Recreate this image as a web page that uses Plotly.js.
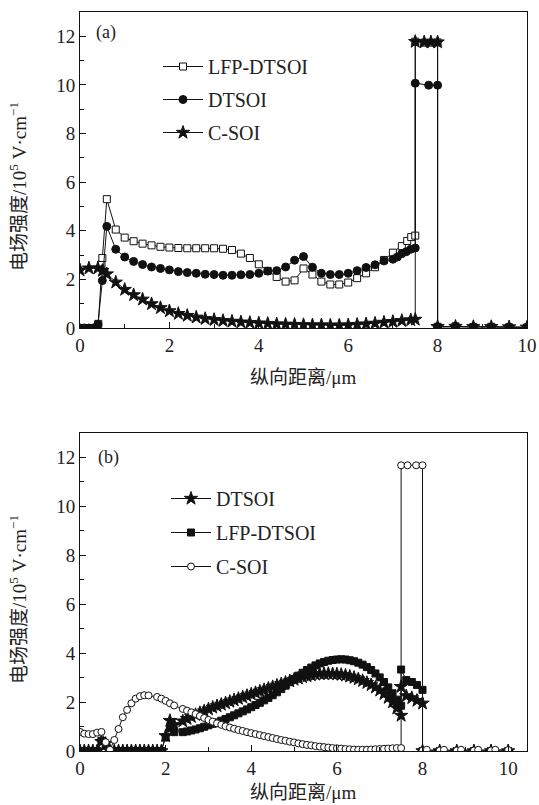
<!DOCTYPE html>
<html><head><meta charset="utf-8">
<script src="https://cdn.plot.ly/plotly-3.0.1.min.js"></script>
<style>body{margin:0;background:#fff}#chart{width:539px;height:805px}</style>
</head><body><div id="chart"></div>
<script>
// ---------- Panel (a) ----------
var xA_LFP = [0,0.1,0.2,0.3,0.41,0.48,0.5,0.6,0.8,1.0,1.2,1.4,1.6,1.8,2.0,2.2,2.4,2.6,2.8,3.0,3.2,3.4,3.6,3.8,4.0,4.2,4.4,4.6,4.8,5.0,5.2,5.4,5.6,5.8,6.0,6.2,6.4,6.6,6.8,7.0,7.2,7.32,7.41,7.5,7.5,7.7,7.85,8.0,8.0,8.4,8.8,9.2,9.6,10.0];
var yA_LFP = [0,0,0,0,0.17,2.62,2.88,5.3,4.05,3.72,3.57,3.47,3.40,3.34,3.31,3.29,3.28,3.28,3.28,3.28,3.26,3.21,3.06,2.88,2.62,2.35,2.10,1.91,1.96,2.45,2.20,1.91,1.79,1.79,1.87,2.05,2.25,2.50,2.80,3.10,3.37,3.58,3.74,3.80,11.78,11.74,11.74,11.75,0.05,0.07,0.04,0.05,0.03,0.02];

var xA_DT = [0,0.1,0.2,0.3,0.4,0.5,0.6,0.8,1.0,1.2,1.4,1.6,1.8,2.0,2.2,2.4,2.6,2.8,3.0,3.2,3.4,3.6,3.8,4.0,4.2,4.4,4.6,4.8,5.0,5.2,5.4,5.6,5.8,6.0,6.2,6.4,6.6,6.8,7.0,7.1,7.2,7.3,7.4,7.5,7.5,7.8,8.0,8.0,8.4,8.8,9.2,9.6,10.0];
var yA_DT = [0,0,0,0,0.15,1.95,4.18,3.24,2.92,2.74,2.61,2.51,2.45,2.39,2.32,2.28,2.25,2.21,2.20,2.17,2.17,2.19,2.20,2.25,2.34,2.36,2.51,2.79,2.94,2.50,2.25,2.20,2.20,2.25,2.36,2.49,2.60,2.76,2.83,2.92,3.06,3.14,3.24,3.29,10.07,9.99,9.99,0.05,0.06,0.05,0.04,0.04,0.03];

var xA_C = [0,0.2,0.4,0.5,0.6,0.8,1.0,1.2,1.4,1.6,1.8,2.0,2.2,2.4,2.6,2.8,3.0,3.2,3.4,3.6,3.8,4.0,4.2,4.4,4.6,4.8,5.0,5.2,5.4,5.6,5.8,6.0,6.2,6.4,6.6,6.8,7.0,7.2,7.4,7.5,7.5,7.7,7.85,8.0,8.0,8.4,8.8,9.2,9.6,10.0];
var yA_C = [2.38,2.46,2.46,2.36,2.22,1.88,1.58,1.36,1.18,0.99,0.83,0.70,0.59,0.51,0.44,0.38,0.34,0.30,0.27,0.24,0.22,0.20,0.18,0.16,0.15,0.14,0.13,0.12,0.12,0.11,0.11,0.12,0.14,0.16,0.19,0.23,0.26,0.30,0.33,0.35,11.78,11.76,11.76,11.76,0.05,0.06,0.05,0.05,0.04,0.03];

// ---------- Panel (b) ----------
var xB_early = [0,0.1,0.2,0.3,0.4,0.5,0.6,0.7,0.8,0.9,1.0,1.1,1.2,1.3,1.4,1.5,1.6,1.7,1.8,1.9,2.0,2.1,2.2];
var xB_mid = [2.4,2.5,2.6,2.7,2.8,2.9,3.0,3.1,3.2,3.3,3.4,3.5,3.6,3.7,3.8,3.9,4.0,4.1,4.2,4.3,4.4,4.5,4.6,4.7,4.8,4.9,5.0,5.1,5.2,5.3,5.4,5.5,5.6,5.7,5.8,5.9,6.0,6.1,6.2,6.3,6.4,6.5,6.6,6.7,6.8,6.9,7.0,7.1,7.2,7.3,7.4,7.5];
var xB_tail = [7.5,7.62,7.75,7.87,8.0,8.0,8.4,8.8,9.2,9.6,10.0];

var yB_DT_early = [0,0,0,0,0,0.38,0.3,0,0,0,0,0,0,0,0,0,0,0,0,0,0.62,1.24,1.07];
var yB_DT_mid = [1.22,1.32,1.40,1.48,1.56,1.63,1.71,1.78,1.84,1.90,1.96,2.02,2.08,2.14,2.20,2.26,2.32,2.38,2.44,2.50,2.56,2.62,2.68,2.74,2.80,2.86,2.92,2.97,3.02,3.06,3.10,3.13,3.15,3.16,3.16,3.15,3.14,3.12,3.09,3.05,3.00,2.94,2.87,2.79,2.70,2.60,2.48,2.34,2.18,2.00,1.75,1.45];
var yB_DT_tail = [2.63,2.25,2.17,2.06,1.95,0,0,0,0,0,0];

var yB_LFP_early = [0,0,0,0,0,0.42,0.25,0,0,0,0,0,0,0,0,0,0,0,0,0,0.55,0.93,0.77];
var yB_LFP_mid = [0.77,0.80,0.84,0.88,0.93,0.99,1.05,1.11,1.17,1.24,1.31,1.38,1.46,1.54,1.62,1.70,1.79,1.88,1.97,2.07,2.17,2.28,2.40,2.53,2.67,2.81,2.95,3.08,3.20,3.31,3.41,3.50,3.58,3.64,3.69,3.72,3.74,3.75,3.74,3.71,3.67,3.61,3.53,3.43,3.31,3.17,3.01,2.82,2.60,2.36,2.10,1.85];
var yB_LFP_tail = [3.33,2.90,2.82,2.70,2.50,0,0,0,0,0,0];

var xB_C_early = [0,0.1,0.2,0.3,0.4,0.5,0.6,0.7,0.8,0.9,1.0,1.1,1.2,1.3,1.4,1.5,1.6,1.8,1.9,2.0,2.1,2.2];
var yB_C_early = [0.78,0.71,0.69,0.69,0.75,0.78,0.36,0.05,0.45,0.90,1.38,1.68,1.95,2.14,2.24,2.28,2.27,2.21,2.14,2.05,1.95,1.86];
var yB_C_mid = [1.72,1.65,1.58,1.51,1.43,1.35,1.27,1.20,1.13,1.07,1.01,0.96,0.91,0.86,0.82,0.77,0.73,0.69,0.65,0.61,0.57,0.53,0.49,0.45,0.42,0.38,0.35,0.31,0.28,0.25,0.23,0.20,0.18,0.16,0.14,0.12,0.11,0.10,0.08,0.07,0.06,0.05,0.05,0.05,0.06,0.07,0.08,0.09,0.10,0.11,0.12,0.12];
var xB_C_tail = [7.5,7.65,7.85,8.0,8.0,8.1,8.4,8.5,8.8,8.9,9.2,9.3,9.6,9.7,10.0];
var yB_C_tail = [11.68,11.68,11.68,11.68,0.02,0.05,0.02,0.05,0.02,0.05,0.02,0.05,0.02,0.05,0.04];

var xTitle = '纵向距离/μm';
var yTitle = '电场强度/10<sup>5</sup> V·cm<sup>−1</sup>';

// ---------- geometry ----------
var W=539, H=805, ML=80, MR=12, MT=12, MB=54;
var PW=W-ML-MR, PH=H-MT-MB;
function fx(px){return (px-ML)/PW;}
function fy(py){return (H-MB-py)/PH;}

var SERIF = '"Liberation Serif", "Noto Sans CJK SC", serif';
var MIX = '"Liberation Serif", "Noto Sans CJK SC", serif';
var K = '#111';

function tr(x,y,name,sym,size,fill,xa,ya,leg,grp){
  return {x:x,y:y,name:name,type:'scatter',mode:'lines+markers',
    xaxis:xa,yaxis:ya,legend:leg,legendgroup:grp,
    line:{color:K,width:1},
    marker:{symbol:sym,size:size,color:fill,line:{color:K,width:1}}};
}

var data = [
  tr(xA_LFP,yA_LFP,'LFP-DTSOI','square',7,'#fff','x','y','legend','a1'),
  tr(xA_DT,yA_DT,'DTSOI','circle',8,K,'x','y','legend','a2'),
  tr(xA_C,yA_C,'C-SOI','star',10,K,'x','y','legend','a3'),
  tr(xB_early.concat(xB_mid,xB_tail), yB_DT_early.concat(yB_DT_mid,yB_DT_tail),'DTSOI','star',10,K,'x2','y2','legend2','b1'),
  tr(xB_early.concat(xB_mid,xB_tail), yB_LFP_early.concat(yB_LFP_mid,yB_LFP_tail),'LFP-DTSOI','square',7,K,'x2','y2','legend2','b2'),
  tr(xB_C_early.concat(xB_mid,xB_C_tail), yB_C_early.concat(yB_C_mid,yB_C_tail),'C-SOI','circle',7,'#fff','x2','y2','legend2','b3')
];

function xax(range,anchor){
  return {range:range,anchor:anchor,domain:[0,1],showgrid:false,zeroline:false,
    showline:true,mirror:true,linecolor:K,linewidth:1,
    ticks:'inside',ticklen:6,tickcolor:K,tickwidth:1,dtick:2,tick0:0,
    minor:{dtick:1,ticks:'inside',ticklen:4,tickcolor:K},
    tickfont:{family:SERIF,size:19,color:'#222'}};
}
function yax(domain,anchor){
  return {range:[0,13],anchor:anchor,domain:domain,showgrid:false,zeroline:false,
    showline:true,mirror:true,linecolor:K,linewidth:1,
    ticks:'inside',ticklen:6,tickcolor:K,tickwidth:1,dtick:2,tick0:0,
    minor:{dtick:1,ticks:'inside',ticklen:4,tickcolor:K},
    tickfont:{family:SERIF,size:19,color:'#222'}};
}

function ann(text,px,py,angle,size){
  return {text:text,xref:'paper',yref:'paper',x:fx(px),y:fy(py),
    xanchor:'center',yanchor:'middle',showarrow:false,textangle:angle||0,
    font:{family:MIX,size:size||19,color:'#222'}};
}

var legStyle = function(px,py,gap){
  return {x:fx(px),y:fy(py),xanchor:'left',yanchor:'top',bgcolor:'rgba(0,0,0,0)',
    borderwidth:0,font:{family:SERIF,size:20,color:'#222'},tracegroupgap:gap,itemwidth:40};
};

var layout = {
  width:W,height:H,margin:{l:ML,r:MR,t:MT,b:MB},
  paper_bgcolor:'#fff',plot_bgcolor:'#fff',
  xaxis:xax([0,10],'y'),
  yaxis:yax([fy(328),1],'x'),
  xaxis2:xax([0,10.44],'y2'),
  yaxis2:yax([0,fy(433)],'x2'),
  showlegend:true,
  legend:legStyle(158,47,4),
  legend2:legStyle(166,479,5),
  annotations:[
    ann(xTitle,303,377),
    ann(xTitle,303,792),
    ann(yTitle,18,187,-90),
    ann(yTitle,18,600,-90),
    ann('(a)',106,32,0,18),
    ann('(b)',108,457,0,18)
  ]
};

Plotly.newPlot('chart',data,layout,{staticPlot:true,displayModeBar:false});
</script>
</body></html>
